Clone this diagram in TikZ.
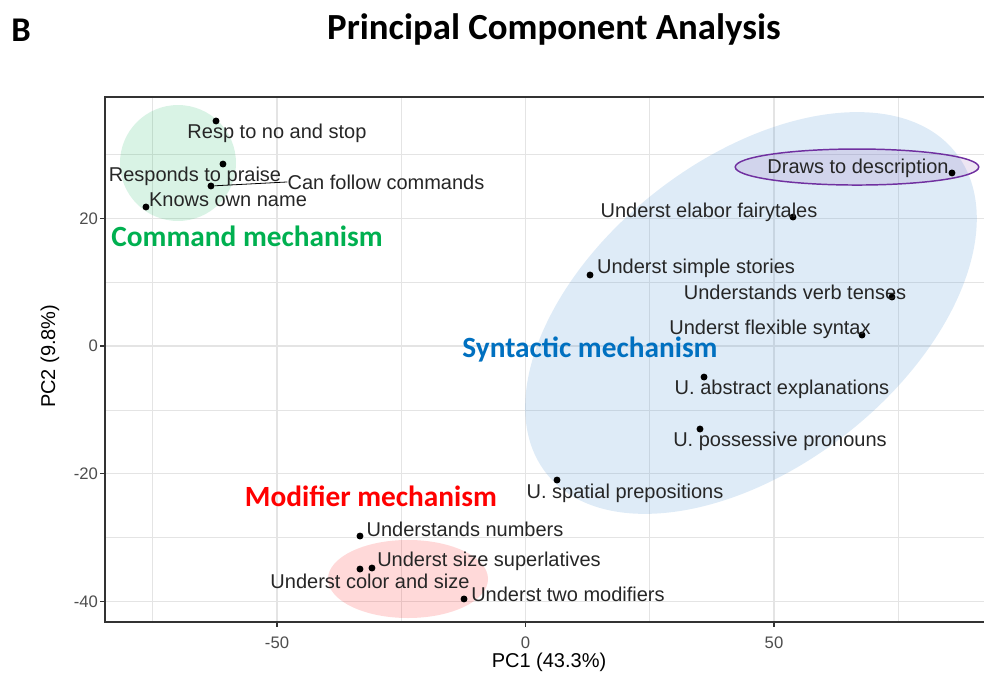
\documentclass[tikz,border=0pt]{standalone}
\usepackage{fontspec}
\setmainfont{Liberation Sans}
\newfontfamily\calibri{Carlito}
\usetikzlibrary{positioning}

\definecolor{cmdgreen}{RGB}{0,176,80}
\definecolor{synblue}{RGB}{0,112,192}
\definecolor{synfill}{RGB}{91,155,213}
\definecolor{modred}{RGB}{255,0,0}
\definecolor{drawpurple}{RGB}{112,48,160}
\definecolor{gridgray}{RGB}{228,228,228}
\definecolor{axisgray}{RGB}{51,51,51}
\definecolor{ticktext}{RGB}{77,77,77}

\begin{document}
\begin{tikzpicture}[x=3.7275pt, y=4.78875pt,
    dot/.style={circle, fill=black, inner sep=0pt, minimum size=5.2pt},
    lab/.style={font=\fontsize{15}{18}\selectfont, text=black!85, inner sep=0pt},
    ticklab/.style={font=\fontsize{12.5}{15}\selectfont, text=ticktext, inner sep=1pt},
    mech/.style={font=\calibri\bfseries\fontsize{22}{26}\selectfont, inner sep=0pt}]
  \useasboundingbox (-105.734,-51.527) rectangle (92.254,54.190);

  % grid
  \foreach \x in {-75,-25,25,75} \draw[gridgray, line width=0.4pt] (\x,-43.23) -- (\x,39);
  \foreach \y in {-30,-10,10,30} \draw[gridgray, line width=0.4pt] (-84.61,\y) -- (92.254,\y);
  \foreach \x in {-50,0,50} \draw[gridgray, line width=0.8pt] (\x,-43.23) -- (\x,39);
  \foreach \y in {-40,-20,0,20} \draw[gridgray, line width=0.8pt] (-84.61,\y) -- (92.254,\y);

  % groups
  \fill[cmdgreen, fill opacity=0.15] (-69.92,28.66) ellipse [x radius=11.67, y radius=9.08];
  \fill[modred, fill opacity=0.15] (-23.64,-36.49) ellipse [x radius=16.1, y radius=6.11];
  \begin{scope}[shift={(45.37,5.17)}, x=0.75pt, y=0.75pt, rotate=38]
    \fill[synfill, fill opacity=0.2] (0,0) ellipse [x radius=260, y radius=154];
  \end{scope}
  \draw[drawpurple, line width=1.1pt, fill=drawpurple, fill opacity=0.12] (66.70,28.03) ellipse [x radius=24.5, y radius=2.82];

  % panel
  \draw[axisgray, line width=1pt] (92.254,39) -- (-84.61,39) -- (-84.61,-43.23) -- (92.254,-43.23);
  \foreach \y in {-40,-20,0,20} {
    \draw[axisgray, line width=0.8pt] (-85.6,\y) -- (-84.61,\y);
    \node[ticklab, anchor=east] (yt\y) at (-85.7,\y) {\y};
  }
  \foreach \x in {-50,0,50} {
    \draw[axisgray, line width=0.8pt] (\x,-43.23) -- (\x,-44.0);
    \node[ticklab] (xt\x) at (\x,-46.5) {\x};
  }
  \node[font=\fontsize{15}{18}\selectfont] (pcone) at (4.73,-49.5) {PC1 (43.3\%)};
  \node[font=\fontsize{15}{18}\selectfont, rotate=90] (pctwo) at (-95.7,-1.6) {PC2 (9.8\%)};

  % points and labels
  \foreach \nm/\dx/\dy/\lx/\ly/\txt in {
      nostop/-62.27/35.24/-50.0/33.36/Resp to no and stop,
      praise/-60.87/28.50/-66.50/26.63/Responds to praise,
      follow/-63.28/25.06/-28.07/25.69/Can follow commands,
      name/-76.36/21.77/-59.86/22.87/Knows own name,
      draws/85.81/27.10/66.90/27.88/Draws to description,
      fairy/53.82/20.20/36.92/20.99/Underst elabor fairytales,
      simple/12.98/11.12/34.31/12.22/Underst simple stories,
      tenses/73.74/7.67/54.23/8.46/Understands verb tenses,
      syntax/67.71/1.72/49.20/2.66/Underst flexible syntax,
      abstract/35.92/-4.86/51.61/-6.73/U. abstract explanations,
      possess/35.11/-13.0/51.21/-14.88/U. possessive pronouns,
      spatial/6.34/-20.99/20.02/-23.02/U. spatial prepositions,
      numbers/-33.30/-29.76/-12.17/-28.66/Understands numbers,
      superl/-30.89/-34.77/-7.34/-33.67/Underst size superlatives,
      colsize/-33.30/-34.93/-31.29/-36.81/Underst color and size,
      twomod/-12.37/-39.62/8.55/-38.84/Underst two modifiers} {
    \node[dot] (d\nm) at (\dx,\dy) {};
    \node[lab] (l\nm) at (\lx,\ly) {\txt};
  }
  \draw[black, line width=0.6pt] (dfollow) -- (lfollow.west);

  % mechanisms
  \node[mech, text=cmdgreen] (cmd) at (-56.02,17.23) {Command mechanism};
  \node[mech, text=synblue] (syn) at (12.98,-0.47) {Syntactic mechanism};
  \node[mech, text=modred] (mod) at (-31.09,-23.49) {Modifier mechanism};

  % titles
  \node[font=\calibri\bfseries\fontsize{26}{30}\selectfont] (panel) at (-101.5,49.5) {B};
  \node[font=\calibri\bfseries\fontsize{27.6}{32}\selectfont] (title) at (5.73,49.5) {Principal Component Analysis};
\end{tikzpicture}
\end{document}
